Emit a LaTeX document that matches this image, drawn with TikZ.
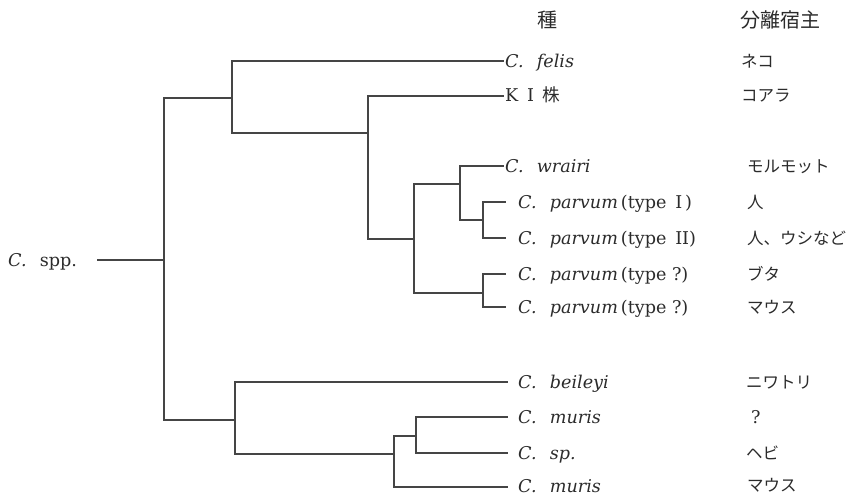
\documentclass[tikz,border=0pt]{standalone}
\usepackage{fontspec}
\setmainfont{DejaVu Serif}
\newfontfamily\jpfont{Noto Sans CJK JP}
\definecolor{ink}{HTML}{2B2B2B}
\definecolor{branch}{HTML}{454545}
\newcommand\spgap{\hspace{0.75em}}
\tikzset{
  branchline/.style={draw=branch, line width=1.1pt},
  taxon/.style={anchor=base west, inner sep=0pt, text=ink,
                font=\fontsize{17.6}{20}\selectfont},
  host/.style={anchor=base west, inner sep=0pt, text=ink,
               font=\fontsize{16.5}{20}\selectfont\jpfont},
  headjp/.style={anchor=base west, inner sep=0pt, text=ink,
               font=\fontsize{20}{22}\selectfont\jpfont},
}
\begin{document}
\begin{tikzpicture}[x=1pt,y=-1pt]
\useasboundingbox (0,0) rectangle (868,495);

% column headings
\node[headjp] (hsp)   at (537,28) {種};
\node[headjp] (hhost) at (740,28) {分離宿主};

% branch points
\coordinate (root) at (164,260);
\coordinate (a) at (232,98);
\coordinate (b) at (368,133);
\coordinate (c) at (414,239);
\coordinate (d) at (460,184);
\coordinate (f) at (483,220);
\coordinate (e) at (483,293);
\coordinate (g) at (235,420);
\coordinate (h) at (394,454);
\coordinate (k) at (416,436);

% branch tips
\coordinate (tfelis) at (504,61);
\coordinate (tki)    at (504,96);
\coordinate (twr)    at (504,166);
\coordinate (tp1)    at (506,202);
\coordinate (tp2)    at (506,238);
\coordinate (tp3)    at (506,274);
\coordinate (tp4)    at (506,307);
\coordinate (tbei)   at (508,382);
\coordinate (tmu1)   at (508,417);
\coordinate (tsp)    at (508,453);
\coordinate (tmu2)   at (508,487);
\coordinate (stem)   at (97,260);

% root label
\node[taxon] (spp) at (8,266) {\textit{C.}\spgap spp.};

% taxa
\node[taxon] (felis) at (505,67)  {\textit{C.}\spgap\textit{felis}};
\node[taxon] (ki)    at (505,102) {K\enskip I\enskip{\jpfont 株}};
\node[taxon] (wr)    at (505,172) {\textit{C.}\spgap\textit{wrairi}};
\node[taxon] (p1)    at (518,208) {\textit{C.}\spgap\textit{parvum}\,(type\enskip I\,)};
\node[taxon] (p2)    at (518,244) {\textit{C.}\spgap\textit{parvum}\,(type\enskip II)};
\node[taxon] (p3)    at (518,280) {\textit{C.}\spgap\textit{parvum}\,(type ?)};
\node[taxon] (p4)    at (518,313) {\textit{C.}\spgap\textit{parvum}\,(type ?)};
\node[taxon] (bei)   at (518,388) {\textit{C.}\spgap\textit{beileyi}};
\node[taxon] (mu1)   at (518,423) {\textit{C.}\spgap\textit{muris}};
\node[taxon] (sp)    at (518,459) {\textit{C.}\spgap\textit{sp.}};
\node[taxon] (mu2)   at (518,492) {\textit{C.}\spgap\textit{muris}};

% hosts
\node[host] (h1)  at (741,67)  {ネコ};
\node[host] (h2)  at (741,102) {コアラ};
\node[host] (h3)  at (747,172) {モルモット};
\node[host] (h4)  at (747,208) {人};
\node[host] (h5)  at (747,244) {人、ウシなど};
\node[host] (h6)  at (747,280) {ブタ};
\node[host] (h7)  at (747,313) {マウス};
\node[host] (h8)  at (746,388) {ニワトリ};
\node[taxon] (h9) at (751,423) {?};
\node[host] (h10) at (746,459) {ヘビ};
\node[host] (h11) at (747,491) {マウス};

% dendrogram
\draw[branchline] (stem) -- (root);
\draw[branchline] (root) |- (a);
\draw[branchline] (root) |- (g);
\draw[branchline] (a) |- (tfelis);
\draw[branchline] (a) |- (b);
\draw[branchline] (b) |- (tki);
\draw[branchline] (b) |- (c);
\draw[branchline] (c) |- (d);
\draw[branchline] (c) |- (e);
\draw[branchline] (d) |- (twr);
\draw[branchline] (d) |- (f);
\draw[branchline] (f) |- (tp1);
\draw[branchline] (f) |- (tp2);
\draw[branchline] (e) |- (tp3);
\draw[branchline] (e) |- (tp4);
\draw[branchline] (g) |- (tbei);
\draw[branchline] (g) |- (h);
\draw[branchline] (h) |- (k);
\draw[branchline] (h) |- (tmu2);
\draw[branchline] (k) |- (tmu1);
\draw[branchline] (k) |- (tsp);
\end{tikzpicture}
\end{document}
